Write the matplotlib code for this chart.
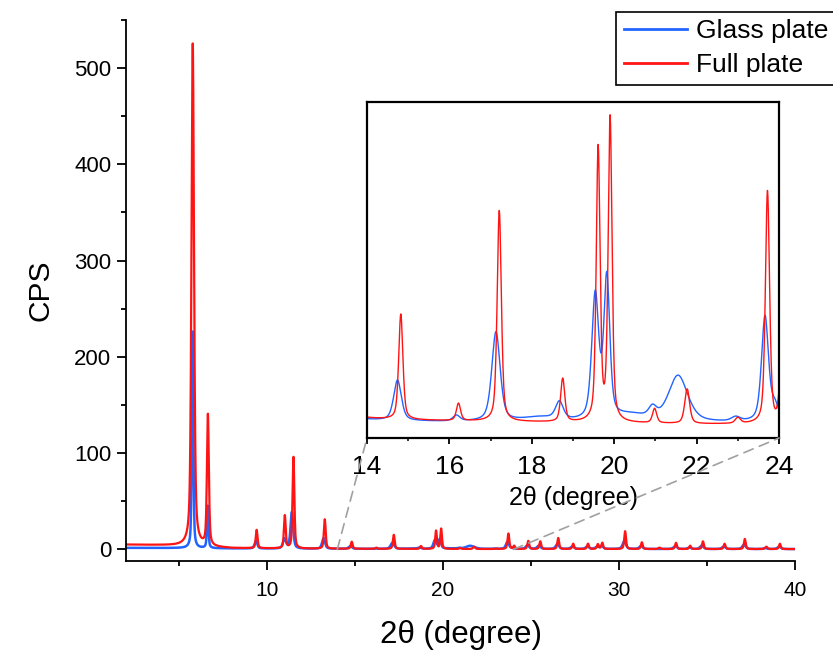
import numpy as np
import matplotlib
matplotlib.use("Agg")
import matplotlib.pyplot as plt
from matplotlib.ticker import MultipleLocator
from matplotlib.patches import ConnectionPatch

plt.rcParams['font.family'] = ['Liberation Sans', 'DejaVu Sans']

# ---------------- data ----------------
scan_start, scan_end, scan_step = 2.0, 39.95, 0.01

# Full plate (red): peak positions (2theta), heights (CPS above background), FWHM
full_pos = [5.79, 6.65, 9.42, 11.02, 11.51, 13.29, 14.82, 16.22, 17.21, 18.75,
            19.61, 19.90, 20.98, 21.77, 23.00, 23.72, 24.05, 24.85, 25.53, 26.55,
            27.40, 28.24, 28.80, 29.05, 30.35, 31.30, 32.30, 33.24, 34.04, 34.77,
            36.00, 37.15, 38.37, 39.14]
full_height = [522, 136, 19.0, 34.0, 95.0, 30.5, 7.3, 1.2, 14.6, 3.0,
               18.9, 21.0, 1.0, 2.4, 0.4, 16.1, 3.3, 8.5, 8.0, 11.5,
               5.5, 5.5, 5.0, 6.5, 18.5, 7.0, 1.5, 6.5, 3.5, 8.0,
               5.5, 10.5, 2.5, 5.5]
full_fwhm = [0.17, 0.13, 0.12, 0.12, 0.12, 0.12, 0.12, 0.12, 0.12, 0.12,
             0.11, 0.11, 0.12, 0.14, 0.15, 0.12, 0.12, 0.12, 0.12, 0.12,
             0.12, 0.12, 0.12, 0.12, 0.12, 0.12, 0.15, 0.12, 0.12, 0.12,
             0.12, 0.12, 0.15, 0.12]
full_bg_x = [2.0, 4.0, 5.3, 8.0, 12.0, 16.0, 22.0, 30.0, 40.0]
full_bg_y = [5.0, 4.4, 3.6, 1.3, 0.8, 0.6, 0.4, 0.4, 0.35]

# Glass plate (blue)
glass_pos = [5.78, 6.64, 9.38, 11.00, 11.42, 13.22, 14.74, 16.17, 17.13, 18.20,
             18.67, 19.54, 19.82, 20.40, 20.93, 21.55, 22.95, 23.66, 23.90, 24.80,
             25.45, 26.50, 27.35, 28.20, 28.75, 29.00, 30.30, 31.25, 33.20, 34.00,
             34.70, 35.95, 37.10, 38.30, 39.10]
glass_height = [225, 44, 8.0, 10.0, 38.0, 11.0, 2.8, 0.4, 6.2, 0.3,
                1.2, 8.6, 9.7, 0.45, 0.7, 3.2, 0.3, 7.3, 1.0, 4.0,
                3.5, 5.0, 2.5, 2.5, 2.0, 3.0, 8.0, 3.0, 3.0, 1.5,
                3.5, 2.5, 4.5, 1.0, 2.5]
glass_fwhm = [0.10, 0.10, 0.18, 0.2, 0.18, 0.2, 0.22, 0.2, 0.24, 1.0,
              0.22, 0.2, 0.17, 1.0, 0.22, 0.55, 0.25, 0.2, 0.2, 0.22,
              0.22, 0.22, 0.22, 0.22, 0.22, 0.22, 0.22, 0.22, 0.22, 0.22,
              0.22, 0.22, 0.22, 0.22, 0.22]
glass_bg_x = [2.0, 5.0, 8.0, 12.0, 16.0, 22.0, 40.0]
glass_bg_y = [1.6, 1.4, 1.0, 0.7, 0.55, 0.5, 0.4]

legend_labels = ["Glass plate", "Full plate"]
main_xticks = [10, 20, 30, 40]
main_yticks = [0, 100, 200, 300, 400, 500]
inset_xticks = [14, 16, 18, 20, 22, 24]


def pattern(x, pos, height, fwhm, bgx, bgy):
    y = np.interp(x, bgx, bgy)
    for p, h, w in zip(pos, height, fwhm):
        hw = w / 2.0
        lor = 1.0 / (1.0 + ((x - p) / hw) ** 2)
        gau = np.exp(-np.log(2) * ((x - p) / hw) ** 2)
        y = y + h * (0.5 * lor + 0.5 * gau)
    return y


two_theta = np.arange(scan_start, scan_end, scan_step)
full = pattern(two_theta, full_pos, full_height, full_fwhm, full_bg_x, full_bg_y)
glass = pattern(two_theta, glass_pos, glass_height, glass_fwhm, glass_bg_x, glass_bg_y)

blue = '#2363ff'
red = '#ff1414'

fig = plt.figure(figsize=(8.33, 6.52), dpi=100)
ax = fig.add_axes([0.1513, 0.1396, 0.8031, 0.8298])

lb, = ax.plot(two_theta, glass, color=blue, lw=1.8, label=legend_labels[0])
lr, = ax.plot(two_theta, full, color=red, lw=1.6, label=legend_labels[1])
ax.set_xlim(2.0, 40.0)
ax.set_ylim(-12, 550)
ax.spines['top'].set_visible(False)
ax.spines['right'].set_visible(False)
for s in ['left', 'bottom']:
    ax.spines[s].set_linewidth(1.3)
ax.set_xticks(main_xticks)
ax.set_yticks(main_yticks)
ax.xaxis.set_minor_locator(MultipleLocator(5))
ax.yaxis.set_minor_locator(MultipleLocator(50))
ax.tick_params(which='major', direction='out', length=6.5, width=1.3, pad=5)
ax.tick_params(axis='x', which='major', labelsize=15, pad=8)
ax.tick_params(axis='y', which='major', labelsize=16, pad=4)
ax.tick_params(which='minor', direction='out', length=3.5, width=1.3)
ax.set_xlabel("2θ (degree)", fontsize=22.5, labelpad=14)
ax.set_ylabel("CPS", fontsize=21.5, labelpad=14)

# inset
axin = fig.add_axes([0.4406, 0.3282, 0.4946, 0.5161])
axin.plot(two_theta, glass, color=blue, lw=1.0)
axin.plot(two_theta, full, color=red, lw=1.0)
axin.set_xlim(14, 24)
axin.set_ylim(-0.55, 22.75)
axin.set_yticks([])
axin.set_xticks(inset_xticks)
axin.xaxis.set_minor_locator(MultipleLocator(1))
for s in axin.spines.values():
    s.set_linewidth(1.6)
axin.tick_params(which='major', direction='out', length=4.5, width=1.3, labelsize=19, pad=8)
axin.tick_params(which='minor', direction='out', length=2.5, width=1.1)
axin.set_xlabel("2θ (degree)", fontsize=18, labelpad=5)

# dashed connector lines
for xa, xb in [(14, 0), (24, 1)]:
    con = ConnectionPatch(xyA=(xa, 0), coordsA=ax.transData,
                          xyB=(xb, 0), coordsB=axin.transAxes,
                          color='#a0a0a0', lw=1.2, linestyle=(0, (6, 4)), zorder=0.5)
    fig.add_artist(con)

leg = fig.legend(handles=[lb, lr], labels=legend_labels, loc='upper left',
                 bbox_to_anchor=(616 / 833, 1 - 11.5 / 652), fontsize=19,
                 frameon=True, fancybox=False, edgecolor='black', framealpha=1,
                 handlelength=2.4, handletextpad=0.35, borderpad=0.3,
                 labelspacing=0.38, borderaxespad=0)
leg.get_frame().set_linewidth(1.2)
for h in leg.legend_handles:
    h.set_linewidth(2.0)

fig.savefig("out.png", dpi=100)
